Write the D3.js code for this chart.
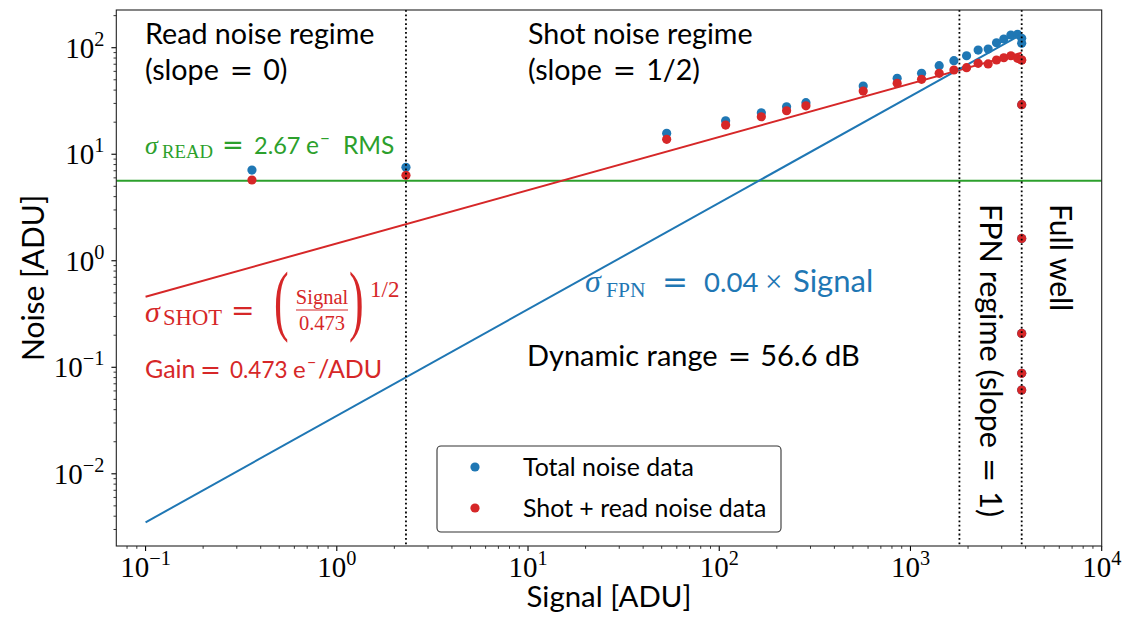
<!DOCTYPE html>
<html>
<head>
<meta charset="utf-8">
<script src="https://cdn.jsdelivr.net/npm/d3@7"></script>
<style>
  html, body { margin: 0; padding: 0; background: #fff; }
  svg { display: block; }
</style>
</head>
<body>
<svg id="chart" width="1124" height="619"></svg>
<script>
// ---- Photon transfer curve data (ADU) ----
const signal        = [0.36, 2.30, 53.1, 108, 166, 225, 284, 566, 852, 1143, 1413, 1687, 1965, 2259, 2548, 2818, 3077, 3350, 3630, 3816, 3816, 3816, 3816, 3816, 3816, 3816];
const totalNoise    = [7.1, 7.53, 15.7, 20.6, 24.5, 27.9, 30.5, 43.7, 51.6, 57.5, 67.8, 75.5, 84.1, 95.1, 97.3, 111.4, 120.8, 131.6, 133.6, 122.5, 110, 29.2, 1.62, 0.208, 0.0877, 0.0611];
const shotReadNoise = [5.73, 6.34, 13.8, 18.8, 22.5, 25.6, 28.5, 39.2, 46.3, 50.5, 57.5, 61.8, 64.9, 71.4, 70.5, 76.7, 80.5, 84.1, 79.5, 76.7, 76.7, 29.2, 1.62, 0.208, 0.0877, 0.0611];

// Model parameters
const gain = 0.473;          // e-/ADU
const readNoiseE = 2.67;     // e- RMS
const fpnFactor = 0.035;     // FPN fraction of signal
const fullWell = 3816;       // ADU
const readRegimeEdge = 2.30; // ADU
const fpnRegimeEdge = 1803;  // ADU
const modelSignal = [0.1, fullWell];

// Axis ticks
const xTickExps = [-1, 0, 1, 2, 3, 4];
const yTickExps = [-2, -1, 0, 1, 2];

const C = { blue: "#1f77b4", red: "#d62728", green: "#2ca02c" };
const FONTS = {
  sans: "Lato, 'Open Sans', sans-serif",
  serif: "'Liberation Serif', 'DejaVu Serif', serif",
  eq: "'DejaVu Sans', sans-serif"
};

const svg = d3.select("#chart");
const L = 116.3, R = 1101.7, T = 10, B = 546;

const x = d3.scaleLog().domain([0.0703, 1e4]).range([L, R]);
const y = d3.scaleLog().domain([0.0021, 226]).range([B, T]);

svg.append("defs").append("clipPath").attr("id", "plotclip")
  .append("rect").attr("x", L).attr("y", T).attr("width", R - L).attr("height", B - T);

const plot = svg.append("g").attr("clip-path", "url(#plotclip)");

// ---- model lines ----
const line = d3.line().x(d => x(d[0])).y(d => y(d[1]));
const readADU = readNoiseE / gain;

plot.append("path")
  .attr("d", line([[x.domain()[0], readADU], [x.domain()[1], readADU]]))
  .attr("stroke", C.green).attr("stroke-width", 2).attr("fill", "none");

plot.append("path")
  .attr("d", line(modelSignal.map(s => [s, Math.sqrt(s / gain)])))
  .attr("stroke", C.red).attr("stroke-width", 2).attr("fill", "none");

plot.append("path")
  .attr("d", line(modelSignal.map(s => [s, fpnFactor * s])))
  .attr("stroke", C.blue).attr("stroke-width", 2).attr("fill", "none");

// ---- data points ----
const pts = signal.map((s, i) => ({ s, tot: totalNoise[i], sr: shotReadNoise[i] }));
plot.selectAll("circle.tot").data(pts).join("circle")
  .attr("class", "tot")
  .attr("cx", d => x(d.s)).attr("cy", d => y(d.tot)).attr("r", 4.6)
  .attr("fill", C.blue);
plot.selectAll("circle.sr").data(pts).join("circle")
  .attr("class", "sr")
  .attr("cx", d => x(d.s)).attr("cy", d => y(d.sr)).attr("r", 4.6)
  .attr("fill", C.red);

// ---- regime boundaries ----
[readRegimeEdge, fpnRegimeEdge, fullWell].forEach(v => {
  plot.append("line")
    .attr("x1", x(v)).attr("x2", x(v)).attr("y1", T).attr("y2", B)
    .attr("stroke", "#000").attr("stroke-width", 1.8)
    .attr("stroke-dasharray", "1.8,2.6");
});

// ---- axes ----
const sup = (g, exp, size) => {
  g.text("10");
  g.append("tspan").attr("dy", -size * 0.42).attr("font-size", size * 0.7)
    .text(exp < 0 ? "\u2212" + (-exp) : exp);
};

function minorTicks(lo, hi) {
  const out = [];
  for (let e = lo; e <= hi; e++) for (let m = 2; m <= 9; m++) out.push(m * Math.pow(10, e));
  return out;
}

const axes = svg.append("g");
const xMinor = minorTicks(-2, 3).filter(v => v >= x.domain()[0] && v <= x.domain()[1]);
axes.selectAll("line.xminor").data(xMinor).join("line")
  .attr("x1", d => x(d)).attr("x2", d => x(d)).attr("y1", B).attr("y2", B + 2.8)
  .attr("stroke", "#000").attr("stroke-width", 0.8);
axes.selectAll("line.xmajor").data(xTickExps).join("line")
  .attr("x1", d => x(Math.pow(10, d))).attr("x2", d => x(Math.pow(10, d)))
  .attr("y1", B).attr("y2", B + 4.9)
  .attr("stroke", "#000").attr("stroke-width", 1.1);
axes.selectAll("text.xlab").data(xTickExps).join("text")
  .attr("x", d => x(Math.pow(10, d))).attr("y", B + 31)
  .attr("text-anchor", "middle").attr("font-family", FONTS.serif).attr("font-size", 29)
  .each(function (d) { sup(d3.select(this), d, 29); });

const yMinor = minorTicks(-3, 2).filter(v => v >= y.domain()[0] && v <= y.domain()[1]);
axes.selectAll("line.yminor").data(yMinor).join("line")
  .attr("x1", L - 2.8).attr("x2", L).attr("y1", d => y(d)).attr("y2", d => y(d))
  .attr("stroke", "#000").attr("stroke-width", 0.8);
axes.selectAll("line.ymajor").data(yTickExps).join("line")
  .attr("x1", L - 4.9).attr("x2", L)
  .attr("y1", d => y(Math.pow(10, d))).attr("y2", d => y(Math.pow(10, d)))
  .attr("stroke", "#000").attr("stroke-width", 1.1);
axes.selectAll("text.ylab").data(yTickExps).join("text")
  .attr("x", L - 12).attr("y", d => y(Math.pow(10, d)) + 10)
  .attr("text-anchor", "end").attr("font-family", FONTS.serif).attr("font-size", 29)
  .each(function (d) { sup(d3.select(this), d, 29); });

svg.append("rect").attr("x", L).attr("y", T).attr("width", R - L).attr("height", B - T)
  .attr("fill", "none").attr("stroke", "#222").attr("stroke-width", 1.1);

svg.append("text").attr("x", (L + R) / 2).attr("y", 607)
  .attr("text-anchor", "middle").attr("font-family", FONTS.sans).attr("font-size", 29.4)
  .text("Signal [ADU]");
svg.append("text").attr("transform", `translate(44,${(T + B) / 2}) rotate(-90)`)
  .attr("text-anchor", "middle").attr("font-family", FONTS.sans).attr("font-size", 30)
  .text("Noise [ADU]");

// ---- annotations ----
// parts: { t, size, font, italic, x (absolute), dx, shift (baseline shift) }
function rich(xp, yp, parts, color, rotate) {
  const t = svg.append("text").attr("x", xp).attr("y", yp).attr("fill", color);
  if (rotate) t.attr("transform", `rotate(${rotate},${xp},${yp})`);
  let cur = 0;
  parts.forEach(p => {
    const s = t.append("tspan")
      .attr("font-family", FONTS[p.font || "sans"])
      .attr("font-size", p.size)
      .attr("dy", (p.shift || 0) - cur)
      .text(p.t);
    if (p.x !== undefined) s.attr("x", p.x);
    if (p.dx) s.attr("dx", p.dx);
    if (p.italic) s.attr("font-style", "italic");
    cur = p.shift || 0;
  });
  return t;
}

rich(145, 44, [{ t: "Read noise regime", size: 28.7 }], "#000");
rich(145, 80, [
  { t: "(slope", size: 28.7 },
  { t: "=", size: 27.8, font: "eq", dx: 11 },
  { t: "0)", size: 28.7, dx: 10 }
], "#000");
rich(528, 44, [{ t: "Shot noise regime", size: 28.7 }], "#000");
rich(528, 80, [
  { t: "(slope", size: 28.7 },
  { t: "=", size: 27.8, font: "eq", dx: 11 },
  { t: "1/2)", size: 28.7, dx: 10 }
], "#000");

rich(145, 154, [
  { t: "\u03c3", size: 26, font: "serif", italic: true },
  { t: "READ", size: 18.7, font: "serif", shift: 4, x: 162 },
  { t: "=", size: 26, font: "eq", x: 222 },
  { t: "2.67", size: 23.5, x: 254 },
  { t: "e", size: 24.5, x: 306 },
  { t: "\u2212", size: 17, shift: -10, x: 320 },
  { t: "RMS", size: 24.5, x: 343 }
], C.green);

rich(585, 292, [
  { t: "\u03c3", size: 32, font: "serif", italic: true },
  { t: "FPN", size: 21.5, font: "serif", shift: 5, x: 606 },
  { t: "=", size: 31, font: "eq", x: 662 },
  { t: "0.04", size: 27.5, x: 704 },
  { t: "\u00d7", size: 31, font: "serif", x: 765 },
  { t: "Signal", size: 31, x: 793 }
], C.blue);

rich(527, 366, [
  { t: "Dynamic range", size: 29 },
  { t: "=", size: 28, font: "eq", dx: 10 },
  { t: "56.6 dB", size: 29, dx: 9 }
], "#000");

rich(145, 378, [
  { t: "Gain", size: 25 },
  { t: "=", size: 25, font: "eq", x: 200 },
  { t: "0.473", size: 22.5, x: 230 },
  { t: "e", size: 24, x: 293 },
  { t: "\u2212", size: 16, shift: -10, x: 307 },
  { t: "/ADU", size: 25, x: 318 }
], C.red);

// shot-noise formula
const eq = svg.append("g").attr("fill", C.red).attr("font-family", FONTS.serif);
eq.append("text").attr("x", 145).attr("y", 322).attr("font-size", 30).attr("font-style", "italic").text("\u03c3");
eq.append("text").attr("x", 163).attr("y", 325).attr("font-size", 22.6).text("SHOT");
eq.append("text").attr("x", 231).attr("y", 320).attr("font-size", 28).attr("font-family", FONTS.eq).text("=");
eq.append("text").attr("transform", "translate(274,326) scale(1,1.78)").attr("font-size", 44).text("(");
eq.append("text").attr("x", 322).attr("y", 304).attr("font-size", 20.5).attr("text-anchor", "middle").text("Signal");
eq.append("line").attr("x1", 296).attr("x2", 348).attr("y1", 310).attr("y2", 310)
  .attr("stroke", C.red).attr("stroke-width", 1.2);
eq.append("text").attr("x", 322).attr("y", 330).attr("font-size", 20.5).attr("text-anchor", "middle").text("0.473");
eq.append("text").attr("transform", "translate(349,326) scale(1,1.78)").attr("font-size", 44).text(")");
eq.append("text").attr("x", 370).attr("y", 297).attr("font-size", 23).text("1/2");

// rotated regime labels
rich(980, 204, [
  { t: "FPN regime (slope", size: 30.5 },
  { t: "=", size: 29, font: "eq", dx: 10 },
  { t: "1)", size: 30.5, dx: 9 }
], "#000", 90);
rich(1050, 204, [{ t: "Full well", size: 30 }], "#000", 90);

// ---- legend ----
const lg = svg.append("g");
lg.append("rect").attr("x", 437).attr("y", 446).attr("width", 344).attr("height", 86)
  .attr("rx", 4).attr("fill", "#fff").attr("fill-opacity", 0.8)
  .attr("stroke", "#333").attr("stroke-width", 1.1);
const legendItems = [{ label: "Total noise data", color: C.blue }, { label: "Shot + read noise data", color: C.red }];
legendItems.forEach((it, i) => {
  lg.append("circle").attr("cx", 475).attr("cy", 467 + i * 41).attr("r", 4.6).attr("fill", it.color);
  lg.append("text").attr("x", 523).attr("y", 476 + i * 41)
    .attr("font-family", FONTS.sans).attr("font-size", 24.9).text(it.label);
});
</script>
</body>
</html>
